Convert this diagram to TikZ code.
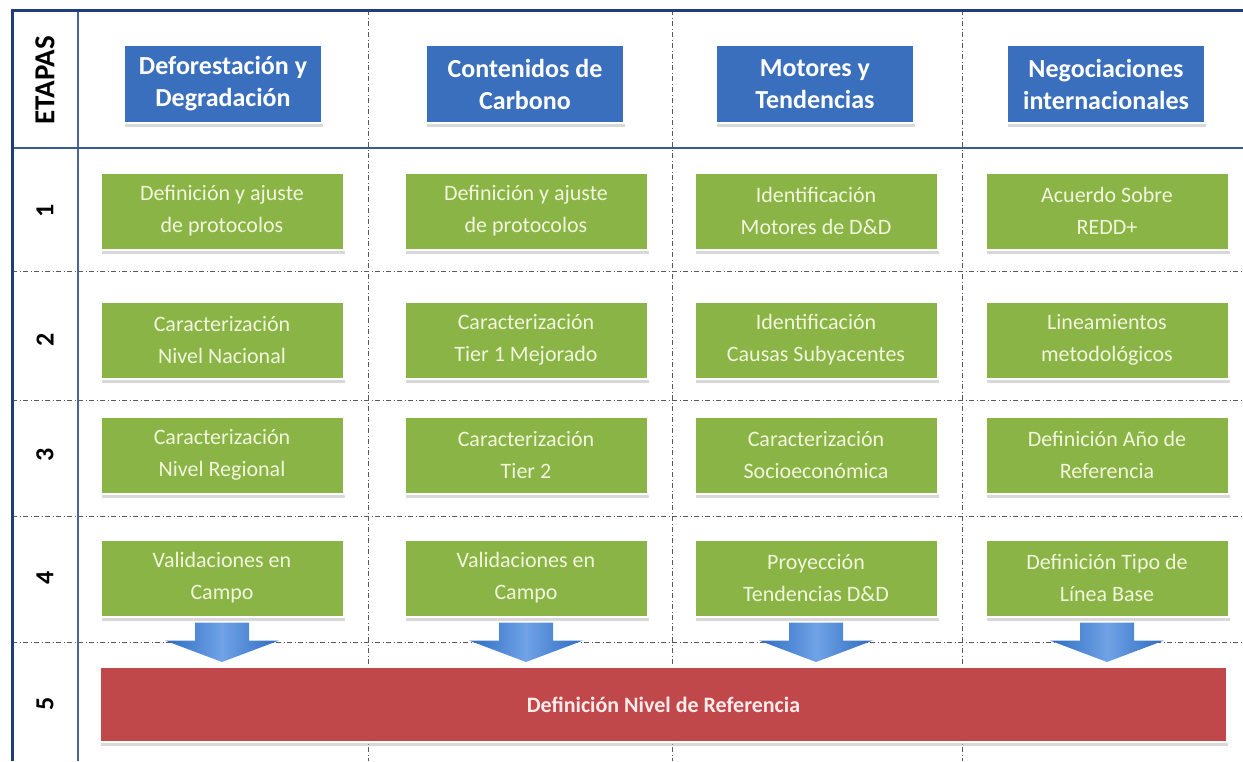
\documentclass[tikz,border=0pt]{standalone}
\usepackage{fontspec}
\setmainfont{Carlito}
\usetikzlibrary{shadows,calc}
\definecolor{framenavy}{HTML}{1F3D7A}
\definecolor{headblue}{HTML}{3A6FBE}
\definecolor{stepgreen}{HTML}{8AB446}
\definecolor{refred}{HTML}{C0474A}
\definecolor{arrowblue}{HTML}{2F6BC0}
\definecolor{arrowlight}{HTML}{6FA3E6}
\definecolor{paletext}{HTML}{F2F6DC}
\newcommand{\stagearrow}[1]{%
  \path (#1.south) ++(0,5) coordinate (#1-at);
  \path (#1.south |- ref.north) ++(0,-4) coordinate (#1-ab);
  \shade[left color=arrowblue,right color=arrowblue,middle color=arrowlight]
    ($(#1-at)+(-27,0)$) -- ($(#1-at)+(27,0)$) -- ($(#1-at)+(27,18)$)
    -- ($(#1-at)+(57,18)$) -- (#1-ab) -- ($(#1-at)+(-57,18)$)
    -- ($(#1-at)+(-27,18)$) -- cycle;}
\begin{document}
\begin{tikzpicture}[x=1pt,y=-1pt,
    header/.style={fill=headblue,draw=white,line width=2pt,text=white,
      minimum width=198pt,minimum height=78pt,align=center,
      font=\fontsize{26}{32}\selectfont\bfseries,
      drop shadow={shadow xshift=1pt,shadow yshift=-4pt,fill=black!30}},
    task/.style={fill=stepgreen,draw=white,line width=2pt,text=paletext,
      minimum width=243pt,minimum height=77pt,align=center,
      font=\fontsize{22}{32}\selectfont,
      drop shadow={shadow xshift=1pt,shadow yshift=-4pt,fill=black!30}},
    stage/.style={rotate=90,font=\fontsize{26}{30}\selectfont\bfseries},
    sep/.style={black!65,line width=0.8pt,
      dash pattern=on 5pt off 2.5pt on 1pt off 2.5pt}]
  \useasboundingbox (0,0) rectangle (1243,761);
  % grid
  \draw[sep] (12,271) -- (1243,271);
  \draw[sep] (12,400) -- (1243,400);
  \draw[sep] (12,516) -- (1243,516);
  \draw[sep] (12,642) -- (1243,642);
  \draw[sep] (368,10) -- (368,761);
  \draw[sep] (672,10) -- (672,761);
  \draw[sep] (962,10) -- (962,761);
  \draw[framenavy!80,line width=2pt] (78,10) -- (78,761);
  \draw[framenavy!85,line width=2.5pt] (12,148) -- (1243,148);
  \draw[framenavy,line width=3pt] (12,761) -- (12,10) -- (1243,10);
  % stages
  \node[stage,font=\fontsize{29}{30}\selectfont\bfseries] (etapas) at (45,80) {ETAPAS};
  \node[stage] (s1) at (45,211) {1};
  \node[stage] (s2) at (45,340) {2};
  \node[stage] (s3) at (45,455) {3};
  \node[stage] (s4) at (45,578) {4};
  \node[stage] (s5) at (45,704) {5};
  % headers
  \node[header] (h1) at (223,84) {Deforestación y\\Degradación};
  \node[header] (h2) at (525,84) {Contenidos de\\Carbono};
  \node[header] (h3) at (815,84) {Motores y\\Tendencias};
  \node[header] (h4) at (1106,84) {Negociaciones\\internacionales};
  % tasks
  \node[task] (t11) at (222,211) {Definición y ajuste\\de protocolos};
  \node[task] (t12) at (526,211) {Definición y ajuste\\de protocolos};
  \node[task] (t13) at (816,211) {Identificación\\Motores de D\&D};
  \node[task] (t14) at (1107,211) {Acuerdo Sobre\\REDD+};
  \node[task] (t21) at (222,340) {Caracterización\\Nivel Nacional};
  \node[task] (t22) at (526,340) {Caracterización\\Tier 1 Mejorado};
  \node[task] (t23) at (816,340) {Identificación\\Causas Subyacentes};
  \node[task] (t24) at (1107,340) {Lineamientos\\metodológicos};
  \node[task] (t31) at (222,455) {Caracterización\\Nivel Regional};
  \node[task] (t32) at (526,455) {Caracterización\\Tier 2};
  \node[task] (t33) at (816,455) {Caracterización\\Socioeconómica};
  \node[task] (t34) at (1107,455) {Definición Año de\\Referencia};
  \node[task] (t41) at (222,578) {Validaciones en\\Campo};
  \node[task] (t42) at (526,578) {Validaciones en\\Campo};
  \node[task] (t43) at (816,578) {Proyección\\Tendencias D\&D};
  \node[task] (t44) at (1107,578) {Definición Tipo de\\Línea Base};
  % result
  \node[fill=refred,draw=white,line width=2pt,text=red!8,
    minimum width=1127pt,minimum height=75pt,
    font=\fontsize{22}{26}\selectfont\bfseries,
    drop shadow={shadow xshift=1pt,shadow yshift=-4pt,fill=black!30}]
    (ref) at (663.5,704.5) {Definición Nivel de Referencia};
  \stagearrow{t41}
  \stagearrow{t42}
  \stagearrow{t43}
  \stagearrow{t44}
\end{tikzpicture}
\end{document}
